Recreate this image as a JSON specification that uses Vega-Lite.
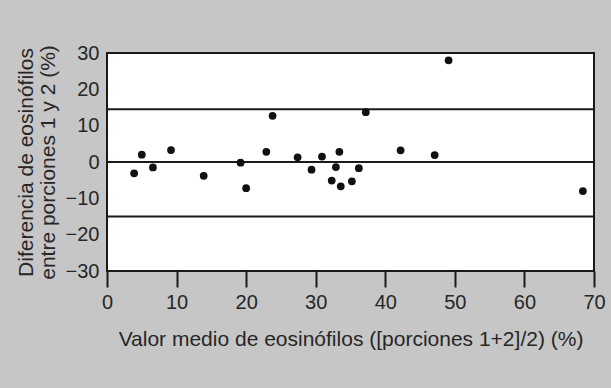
{
  "$schema": "https://vega.github.io/schema/vega-lite/v6.json",
  "autosize": {"type": "none"},
  "width": 487,
  "height": 218,
  "padding": {"left": 107, "top": 53, "right": 17, "bottom": 117},
  "background": "#c6c6c6",
  "config": {
    "view": {"fill": "white", "stroke": "#1a1a1a", "strokeWidth": 2},
    "font": "Liberation Sans",
    "axis": {
      "domain": false,
      "grid": false,
      "labelFont": "Liberation Sans",
      "titleFont": "Liberation Sans",
      "labelColor": "#262626",
      "titleColor": "#262626",
      "labelFontSize": 20,
      "titleFontSize": 21,
      "titleFontWeight": "normal",
      "labelOverlap": false,
      "labelFlush": false
    }
  },
  "datasets": {
    "points": [
      {"media": 3.9, "diferencia": -3.1},
      {"media": 5.0, "diferencia": 2.0},
      {"media": 6.6, "diferencia": -1.5},
      {"media": 9.2, "diferencia": 3.3},
      {"media": 13.9, "diferencia": -3.8},
      {"media": 19.2, "diferencia": -0.2},
      {"media": 20.0, "diferencia": -7.2},
      {"media": 22.9, "diferencia": 2.8},
      {"media": 23.8, "diferencia": 12.7},
      {"media": 27.4, "diferencia": 1.3},
      {"media": 29.4, "diferencia": -2.1},
      {"media": 30.9, "diferencia": 1.5},
      {"media": 32.3, "diferencia": -5.1},
      {"media": 32.9, "diferencia": -1.4},
      {"media": 33.4, "diferencia": 2.8},
      {"media": 33.6, "diferencia": -6.7},
      {"media": 35.2, "diferencia": -5.3},
      {"media": 36.2, "diferencia": -1.7},
      {"media": 37.2, "diferencia": 13.7},
      {"media": 42.2, "diferencia": 3.2},
      {"media": 47.1, "diferencia": 1.9},
      {"media": 49.1, "diferencia": 28.0},
      {"media": 68.4, "diferencia": -8.0}
    ],
    "lines": [
      {"nivel": 14.5},
      {"nivel": 0},
      {"nivel": -15}
    ]
  },
  "encoding": {
    "x": {
      "field": "media",
      "type": "quantitative",
      "scale": {"domain": [0, 70], "nice": false},
      "axis": {
        "values": [0, 10, 20, 30, 40, 50, 60, 70],
        "ticks": true,
        "tickSize": 16,
        "tickWidth": 2,
        "tickColor": "#1a1a1a",
        "labelPadding": 5,
        "labelFlush": false,
        "labelOverlap": false,
        "title": "Valor medio de eosinófilos ([porciones 1+2]/2) (%)",
        "titlePadding": 16
      }
    }
  },
  "layer": [
    {
      "data": {"name": "lines"},
      "mark": {"type": "rule", "color": "#1a1a1a", "strokeWidth": 2},
      "encoding": {
        "x": null,
        "y": {
          "field": "nivel",
          "type": "quantitative",
          "scale": {"domain": [-30, 30], "nice": false},
          "axis": {
            "values": [-30, -20, -10, 0, 10, 20, 30],
            "ticks": false,
            "labelPadding": 8,
            "labelFlush": false,
            "labelOverlap": false,
            "title": ["Diferencia de eosinófilos", "entre porciones 1 y 2 (%)"],
            "titleLineHeight": 22,
            "titlePadding": 7
          }
        }
      }
    },
    {
      "data": {"name": "points"},
      "mark": {"type": "point", "shape": "circle", "filled": true, "color": "#111111", "opacity": 1, "size": 60},
      "encoding": {
        "y": {
          "field": "diferencia",
          "type": "quantitative",
          "scale": {"domain": [-30, 30], "nice": false},
          "axis": {
            "values": [-30, -20, -10, 0, 10, 20, 30],
            "ticks": false,
            "labelPadding": 8,
            "labelFlush": false,
            "labelOverlap": false,
            "title": ["Diferencia de eosinófilos", "entre porciones 1 y 2 (%)"],
            "titleLineHeight": 22,
            "titlePadding": 7
          }
        }
      }
    }
  ]
}
